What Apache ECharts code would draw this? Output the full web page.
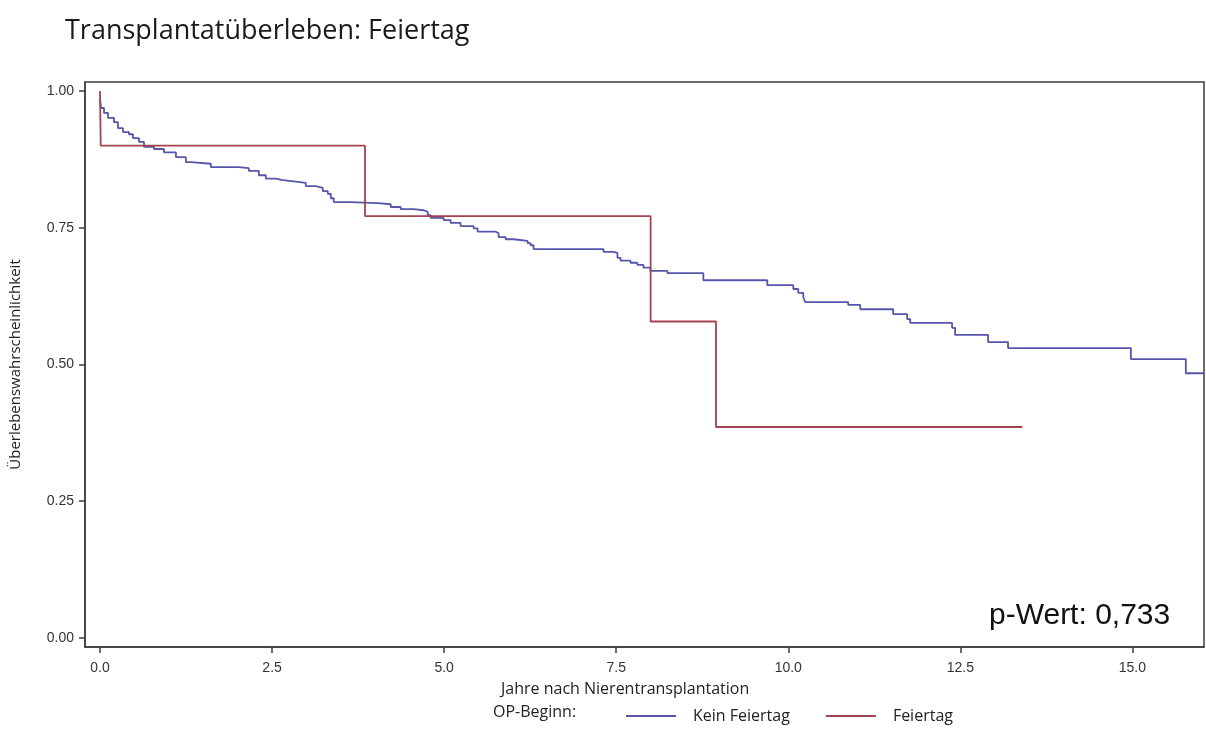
<!DOCTYPE html>
<html>
<head>
<meta charset="utf-8">
<script src="https://cdn.jsdelivr.net/npm/echarts@6/dist/echarts.min.js"></script>
<style>
  html, body { margin: 0; padding: 0; background: #fff; }
  #chart { width: 1206px; height: 754px; }
</style>
</head>
<body>
<div id="chart"></div>
<script>
// Kaplan-Meier step points: time (years) and survival probability
const keinFeiertagTime = [0, 0.015, 0.058, 0.116, 0.203, 0.261, 0.334, 0.421, 0.479, 0.566, 0.639, 0.784, 0.929, 1.103, 1.248, 1.321, 1.611, 2.017, 2.163, 2.308, 2.409, 2.554, 2.656, 2.874, 2.990, 3.135, 3.237, 3.309, 3.353, 3.396, 3.643, 4.035, 4.224, 4.369, 4.557, 4.702, 4.761, 4.804, 4.993, 5.094, 5.239, 5.428, 5.486, 5.747, 5.791, 5.893, 6.009, 6.212, 6.255, 6.299, 7.315, 7.460, 7.518, 7.562, 7.707, 7.808, 7.896, 7.997, 8.244, 8.766, 9.695, 10.073, 10.145, 10.218, 10.247, 10.871, 11.045, 11.524, 11.727, 11.771, 12.380, 12.424, 12.903, 13.193, 14.978, 15.776, 16.05];
const keinFeiertagSurv = [0.985, 0.969, 0.960, 0.951, 0.943, 0.932, 0.925, 0.921, 0.914, 0.907, 0.898, 0.894, 0.888, 0.879, 0.870, 0.867, 0.861, 0.859, 0.854, 0.846, 0.840, 0.837, 0.834, 0.832, 0.826, 0.823, 0.817, 0.812, 0.804, 0.797, 0.795, 0.793, 0.788, 0.784, 0.782, 0.779, 0.773, 0.768, 0.764, 0.759, 0.753, 0.749, 0.743, 0.740, 0.733, 0.729, 0.726, 0.722, 0.718, 0.711, 0.706, 0.704, 0.695, 0.690, 0.686, 0.682, 0.677, 0.671, 0.667, 0.654, 0.645, 0.638, 0.631, 0.623, 0.614, 0.609, 0.601, 0.592, 0.583, 0.576, 0.567, 0.554, 0.541, 0.530, 0.510, 0.484, 0.484];

const feiertagTime = [0, 0.01, 3.85, 8.0, 8.95, 13.4];
const feiertagSurv = [1.0, 0.9, 0.7714, 0.5786, 0.3857, 0.3857];

const xTicks = [0, 2.5, 5, 7.5, 10, 12.5, 15];
const yTicks = [0, 0.25, 0.5, 0.75, 1];

const seriesNames = ['Kein Feiertag', 'Feiertag'];
const seriesColors = ['#5656aa', '#a2434f'];

const pairs = (t, s) => t.map((v, i) => [v, s[i]]);

const chart = echarts.init(document.getElementById('chart'));
const axisColor = '#3c3c3c';
const labelFont = { fontFamily: 'Liberation Sans, Arial, sans-serif', fontSize: 14, color: '#333' };
const textFont = '16px Open Sans, sans-serif';

chart.setOption({
  animation: false,
  backgroundColor: '#fff',
  title: {
    text: 'Transplantatüberleben: Feiertag',
    left: 60, top: 13,
    textStyle: { fontFamily: 'Open Sans, sans-serif', fontSize: 27, fontWeight: 'normal', color: '#1a1a1a' }
  },
  grid: {
    left: 84, top: 82, right: 2, bottom: 107,
    show: true, borderColor: axisColor, borderWidth: 1.5
  },
  xAxis: {
    type: 'value',
    min: -0.218, max: 16.04,
    axisLine: { show: true, onZero: false, lineStyle: { color: axisColor, width: 1.5 } },
    axisTick: { show: true, length: 6, customValues: xTicks, lineStyle: { color: axisColor, width: 1.5 } },
    axisLabel: Object.assign({ customValues: xTicks, margin: 14, formatter: v => v.toFixed(1) }, labelFont),
    splitLine: { show: false }
  },
  yAxis: {
    type: 'value',
    min: -0.0165, max: 1.0165,
    name: 'Überlebenswahrscheinlichkeit',
    nameLocation: 'middle',
    nameGap: 62,
    nameTextStyle: { fontFamily: 'Open Sans, sans-serif', fontSize: 15, color: '#222' },
    axisLine: { show: true, onZero: false, lineStyle: { color: axisColor, width: 1.5 } },
    axisTick: { show: true, length: 6, customValues: yTicks, lineStyle: { color: axisColor, width: 1.5 } },
    axisLabel: Object.assign({ customValues: yTicks, margin: 11, formatter: v => v.toFixed(2) }, labelFont),
    splitLine: { show: false }
  },
  legend: {
    left: 621, top: 703,
    itemWidth: 50, itemHeight: 2, itemGap: 36,
    icon: 'rect',
    textStyle: { fontFamily: 'Open Sans, sans-serif', fontSize: 16, color: '#222', padding: [0, 0, 0, 12] },
    data: seriesNames
  },
  graphic: [
    {
      type: 'text', left: 493, top: 704,
      style: { text: 'OP-Beginn:', font: textFont, fill: '#222' }
    },
    {
      type: 'text', left: 501, top: 681,
      style: { text: 'Jahre nach Nierentransplantation', font: textFont, fill: '#222' }
    },
    {
      type: 'text', left: 989, top: 601,
      style: { text: 'p-Wert: 0,733', font: '30px Liberation Sans, Arial, sans-serif', fill: '#111' }
    }
  ],
  series: [
    {
      name: seriesNames[0], type: 'line', step: 'end', symbol: 'none',
      color: seriesColors[0],
      lineStyle: { color: seriesColors[0], width: 1.8 },
      data: pairs(keinFeiertagTime, keinFeiertagSurv)
    },
    {
      name: seriesNames[1], type: 'line', step: 'end', symbol: 'none',
      color: seriesColors[1],
      lineStyle: { color: seriesColors[1], width: 1.8 },
      data: pairs(feiertagTime, feiertagSurv)
    }
  ]
});
</script>
</body>
</html>
